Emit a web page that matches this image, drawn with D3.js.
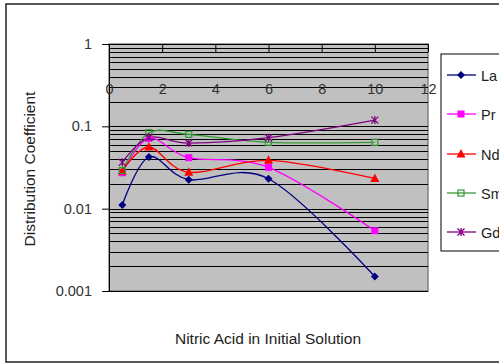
<!DOCTYPE html>
<html><head><meta charset="utf-8">
<script src="https://cdn.jsdelivr.net/npm/d3@7"></script>
<style>body{margin:0;background:#fff}svg{display:block;font-family:"Liberation Sans",Arial,sans-serif}</style>
</head><body><svg id="c" width="499" height="363"></svg>
<script>
const xValues = [0.5, 1.5, 3, 6, 10];
const seriesNames = ["La", "Pr", "Nd", "Sm", "Gd"];
const La = [0.0111, 0.0424, 0.0225, 0.0231, 0.0015];
const Pr = [0.0273, 0.0715, 0.0416, 0.0317, 0.0054];
const Nd = [0.0285, 0.0561, 0.0276, 0.0386, 0.0233];
const Sm = [0.0290, 0.0836, 0.0800, 0.0640, 0.0640];
const Gd = [0.0365, 0.0735, 0.0627, 0.0728, 0.1190];
const xTicks = [0, 2, 4, 6, 8, 10, 12];
const yTicks = [1, 0.1, 0.01, 0.001];
const yTickLabels = ["1", "0.1", "0.01", "0.001"];
const xTitle = "Nitric Acid in Initial Solution";
const yTitle = "Distribution Coefficient";

const seriesData = [La, Pr, Nd, Sm, Gd];
const colors = ["#000080", "#ff00ff", "#ff0000", "#339933", "#800080"];
const markers = ["diamond", "square", "triangle", "hsquare", "star"];

const svg = d3.select("#c");
const L = 109, R = 428, T = 44, B = 291;
const x = d3.scaleLinear().domain([0, 12]).range([L, R]);
const y = d3.scaleLog().domain([0.001, 1]).range([B, T]);
const FF = "Liberation Sans, Arial, sans-serif";

// outer border
svg.append("rect").attr("x", 6).attr("y", 4).attr("width", 500).attr("height", 358)
  .attr("fill", "#fff").attr("stroke", "#222").attr("stroke-width", 1.5);

// plot area
svg.append("rect").attr("x", L).attr("y", T).attr("width", R - L).attr("height", B - T)
  .attr("fill", "#c0c0c0").attr("stroke", "#808080").attr("stroke-width", 1.5);

// gridlines (major + minor)
const grid = [];
[0.001, 0.01, 0.1].forEach(d => { for (let k = 1; k <= 9; k++) grid.push(d * k); });
grid.push(1);
svg.append("g").selectAll("line").data(grid).join("line")
  .attr("x1", L).attr("x2", R).attr("y1", d => Math.round(y(d)) + 0.5).attr("y2", d => Math.round(y(d)) + 0.5)
  .attr("stroke", "#000").attr("stroke-width", 1);

// y axis
const yAxis = d3.axisLeft(y).tickValues(yTicks).tickFormat((d, i) => yTickLabels[i]).tickSize(7).tickPadding(10);
const gy = svg.append("g").attr("transform", `translate(${L},0)`).call(yAxis);
gy.select(".domain").attr("stroke", "#000");
gy.selectAll("text").attr("font-size", 14.5).attr("fill", "#333").attr("font-family", FF);

// x axis at top (value 1) with ticks inward, labels lower
const xAxis = d3.axisBottom(x).tickValues(xTicks).tickFormat(d3.format("d")).tickSize(8).tickSizeOuter(0).tickPadding(32);
const gx = svg.append("g").attr("transform", `translate(0,${T})`).call(xAxis);
gx.select(".domain").attr("stroke", "#000");
gx.selectAll("text").attr("font-size", 14.5).attr("fill", "#333").attr("font-family", FF);

// titles
svg.append("text").attr("x", 268).attr("y", 344).attr("text-anchor", "middle")
  .attr("font-size", 15.5).attr("fill", "#222").text(xTitle);
svg.append("text").attr("transform", "translate(35,169) rotate(-90)").attr("text-anchor", "middle")
  .attr("font-size", 15.5).attr("fill", "#222").text(yTitle);

function drawMarker(g, type, color) {
  if (type === "diamond") g.append("path").attr("d", "M0,-4L4,0L0,4L-4,0Z").attr("fill", color);
  else if (type === "square") g.append("rect").attr("x", -3.5).attr("y", -3.5).attr("width", 7).attr("height", 7).attr("fill", color);
  else if (type === "triangle") g.append("path").attr("d", "M0,-5L4.5,3.5L-4.5,3.5Z").attr("fill", color);
  else if (type === "hsquare") g.append("rect").attr("x", -3).attr("y", -3).attr("width", 6).attr("height", 6).attr("fill", "none").attr("stroke", color).attr("stroke-width", 1.2);
  else if (type === "star") g.append("path").attr("d", "M-3.5,-3.5L3.5,3.5M3.5,-3.5L-3.5,3.5M0,-4L0,4").attr("stroke", color).attr("stroke-width", 1.3);
}

const line = d3.line().x(d => x(d[0])).y(d => y(d[1])).curve(d3.curveCardinal.tension(0));
seriesData.forEach((vals, si) => {
  const pts = xValues.map((xv, i) => [xv, vals[i]]);
  svg.append("path").attr("d", line(pts)).attr("fill", "none").attr("stroke", colors[si]).attr("stroke-width", 1.3);
});
seriesData.forEach((vals, si) => {
  xValues.forEach((xv, i) => {
    const g = svg.append("g").attr("transform", `translate(${x(xv)},${y(vals[i])})`);
    drawMarker(g, markers[si], colors[si]);
  });
});

// legend
svg.append("rect").attr("x", 441).attr("y", 54).attr("width", 70).attr("height", 197)
  .attr("fill", "#fff").attr("stroke", "#000").attr("stroke-width", 1);
const ly = [75, 114, 154, 193, 232];
seriesNames.forEach((n, i) => {
  svg.append("line").attr("x1", 447).attr("x2", 476).attr("y1", ly[i]).attr("y2", ly[i]).attr("stroke", colors[i]).attr("stroke-width", 1.3);
  const g = svg.append("g").attr("transform", `translate(461,${ly[i]})`);
  drawMarker(g, markers[i], colors[i]);
  svg.append("text").attr("x", 481).attr("y", ly[i] + 5.5).attr("font-size", 14.5).attr("fill", "#222").text(n);
});
</script></body></html>
